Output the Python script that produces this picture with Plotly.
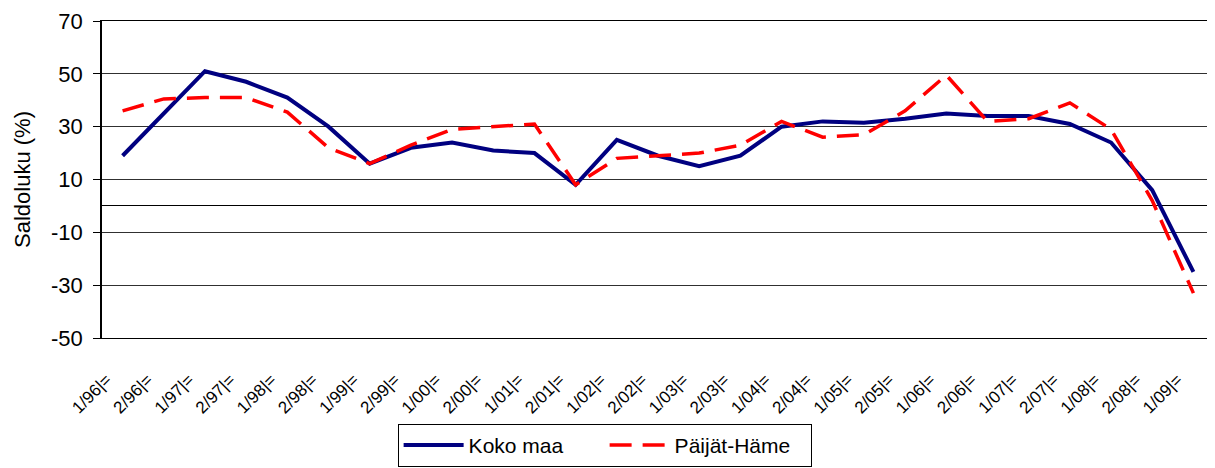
import plotly.graph_objects as go

kaudet = ["1/96|=", "2/96|=", "1/97|=", "2/97|=", "1/98|=", "2/98|=", "1/99|=", "2/99|=",
          "1/00|=", "2/00|=", "1/01|=", "2/01|=", "1/02|=", "2/02|=", "1/03|=", "2/03|=",
          "1/04|=", "2/04|=", "1/05|=", "2/05|=", "1/06|=", "2/06|=", "1/07|=", "2/07|=",
          "1/08|=", "2/08|=", "1/09|="]

koko_maa = [19, 35, 51, 47, 41, 30, 16, 22, 24, 21, 20, 8, 25, 19, 15, 19,
            30, 32, 31.5, 33, 35, 34, 34, 31, 24, 6, -25]

paijat_hame = [36, 40.5, 41, 41, 35.5, 22, 16, 23, 29, 30, 31, 8, 18, 19, 20, 23,
               32, 26, 27, 36, 49.5, 32, 33, 39, 29, 2, -33]

y_ticks = [-50, -30, -10, 10, 30, 50, 70]
y_labels = ["-50", "-30", "-10", "10", "30", "50", "70"]

fig = go.Figure()
fig.add_trace(go.Scatter(x=kaudet, y=koko_maa, name="Koko maa", mode="lines",
                         line=dict(color="#000080", width=4)))
fig.add_trace(go.Scatter(x=kaudet, y=paijat_hame, name="Päijät-Häme", mode="lines",
                         line=dict(color="#ff0000", width=3.5, dash="22px,11px")))

# the page body adds an 8px margin, so the figure is a bit smaller
fig.update_layout(
    width=1207, height=460,
    margin=dict(l=94, r=1, t=13, b=130),
    paper_bgcolor="white", plot_bgcolor="white",
    font=dict(family="Liberation Sans, Arial", color="black"),
    showlegend=True,
    legend=dict(orientation="h", x=0.452, xanchor="center", y=-0.271, yanchor="top",
                bordercolor="black", borderwidth=1, font=dict(size=21),
                itemwidth=60, entrywidth=131, entrywidthmode="pixels"),
)

# invisible long ticks push the slanted labels down like in the original
fig.update_xaxes(
    type="category", range=[-0.5, len(kaudet) - 0.5], automargin=False,
    tickangle=-45, tickfont=dict(size=17), ticklabelshift=-16,
    ticks="outside", ticklen=24, tickcolor="rgba(0,0,0,0)",
    showgrid=False, showline=True, linecolor="black", linewidth=1, mirror=True,
)

fig.update_yaxes(
    range=[-50, 70], tickvals=y_ticks, ticktext=y_labels, tickfont=dict(size=22),
    automargin=False, ticklabelstandoff=6,
    title=dict(text="Saldoluku (%)", font=dict(size=22), standoff=14),
    showgrid=True, gridcolor="#303030", gridwidth=1,
    zeroline=True, zerolinecolor="black", zerolinewidth=1,
    showline=True, linecolor="black", linewidth=1.5, mirror=True,
    ticks="outside", ticklen=7, tickcolor="black",
)

fig.write_html("out.html")
